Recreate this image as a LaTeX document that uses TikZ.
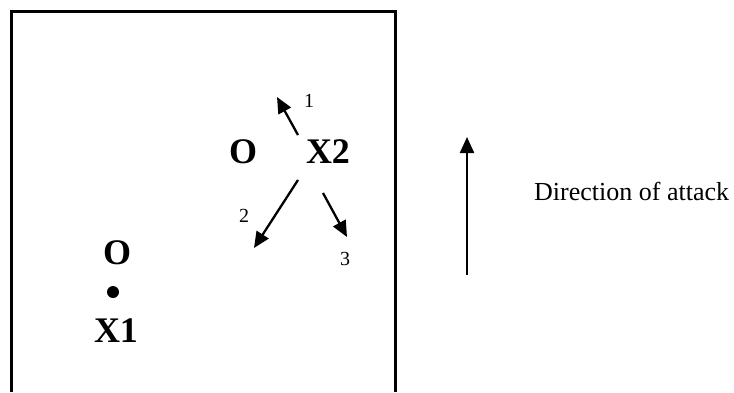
\documentclass[tikz,border=0pt]{standalone}
\usepackage{fontspec}
\setmainfont{Liberation Serif}
\usetikzlibrary{arrows.meta}
\tikzset{
  player/.style={inner sep=0pt, anchor=base, font=\fontsize{36}{40}\selectfont\bfseries},
  num/.style={inner sep=0pt, anchor=base, font=\fontsize{20}{22}\selectfont},
  move/.style={line width=2.3pt, -{Triangle[length=16pt,width=14pt]}},
  frame/.style={line width=3pt}
}
\begin{document}
\begin{tikzpicture}[x=1pt,y=-1pt]
\useasboundingbox (0,0) rectangle (734,392);
% frame (open at the bottom)
\draw[frame] (11,392) -- (11,11) -- (395,11) -- (395,392);
% players
\node[player] (o2) at (243,163) {O};
\node[player] (x2) at (328,163) {X2};
\node[player] (o1) at (117,264) {O};
\node[player] (x1) at (116,342) {X1};
\node[circle, fill=black, inner sep=0pt, minimum size=12pt] (ball) at (113,292) {};
% moves from X2
\coordinate (s1) at (298,135);
\coordinate (e1) at (277,97);
\coordinate (s2) at (298,180);
\coordinate (e2) at (254,248);
\coordinate (s3) at (323,193);
\coordinate (e3) at (347,237);
\draw[move] (s1) -- (e1);
\draw[move] (s2) -- (e2);
\draw[move] (s3) -- (e3);
\node[num] (n1) at (309,107) {1};
\node[num] (n2) at (244,222) {2};
\node[num] (n3) at (345,265) {3};
% direction of attack
\coordinate (ds) at (467,275);
\coordinate (de) at (467,137);
\draw[move] (ds) -- (de);
\node[inner sep=0pt, anchor=base west, font=\fontsize{26}{30}\selectfont] (dir) at (534,200) {Direction of attack};
\end{tikzpicture}
\end{document}
